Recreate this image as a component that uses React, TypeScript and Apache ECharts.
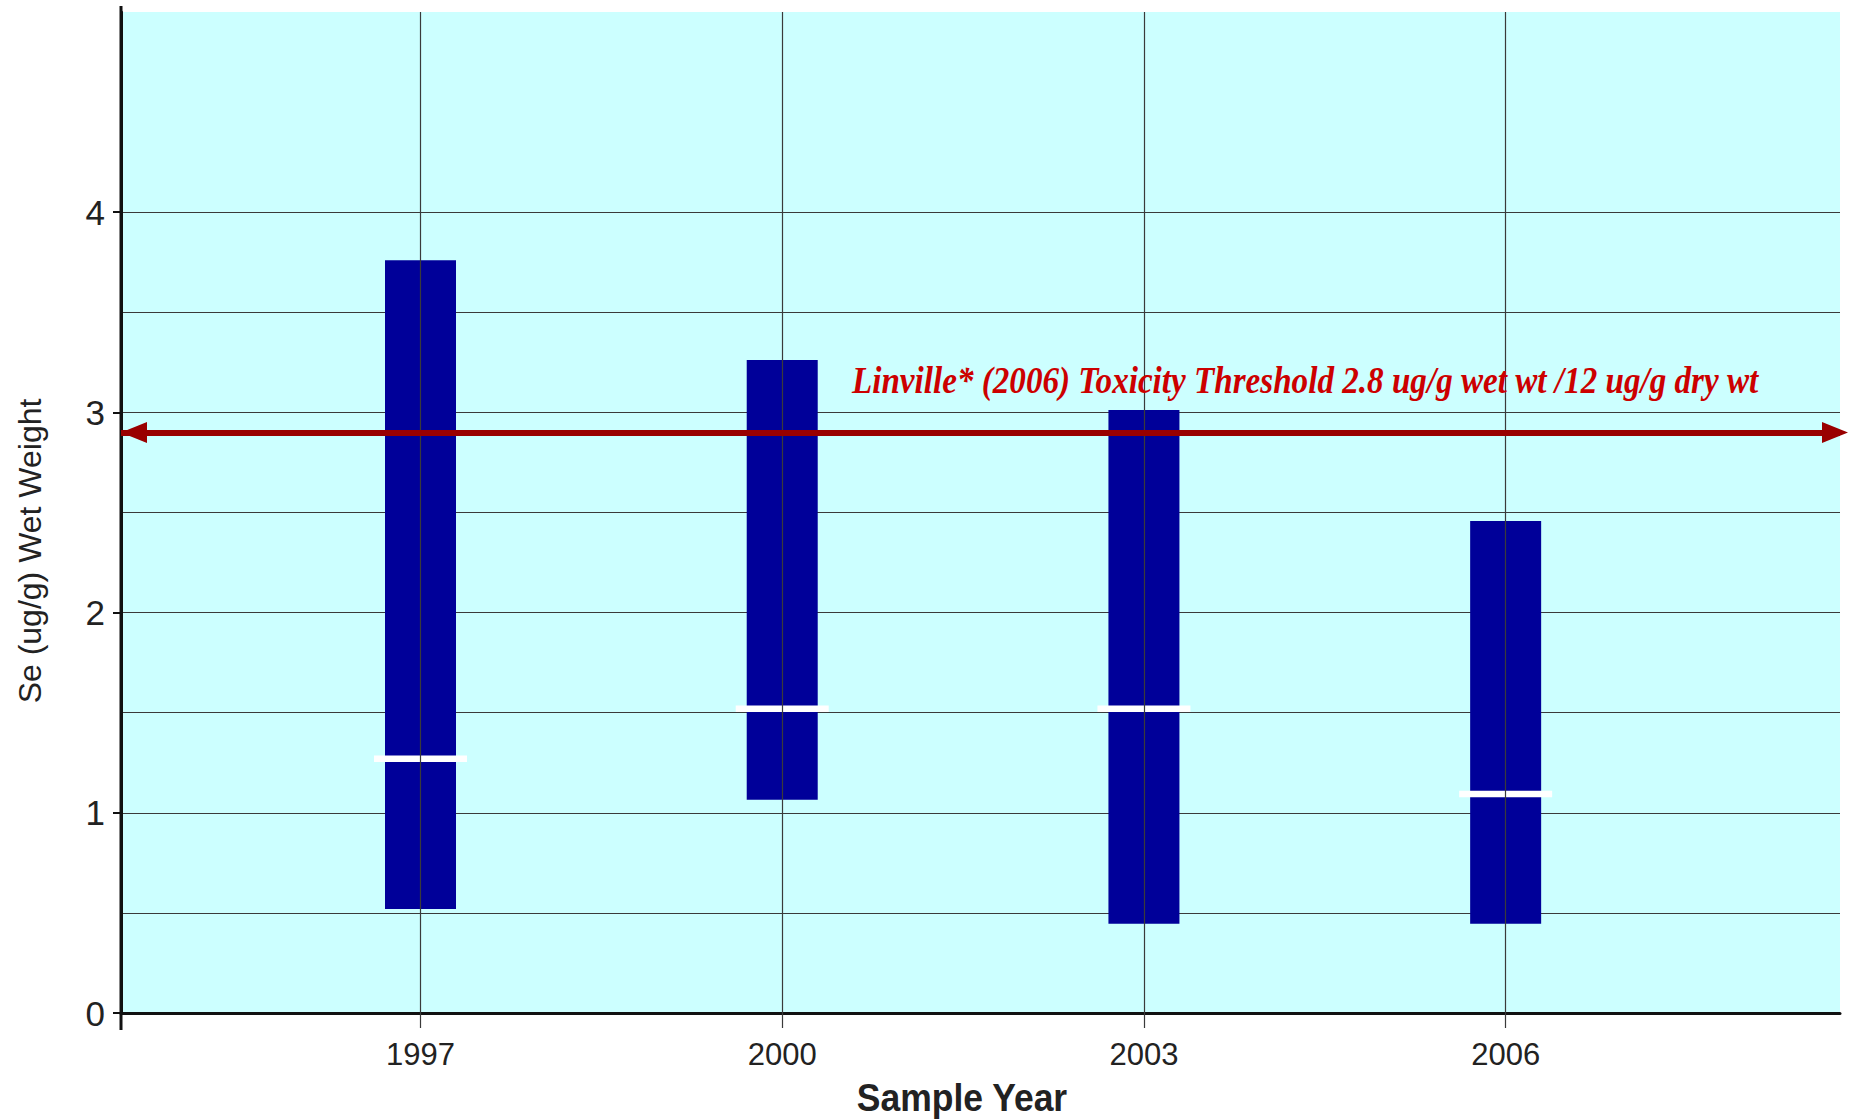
import React, { useEffect, useRef } from "react";
import * as echarts from "echarts";

// ---- data ----
const years = [1997, 2000, 2003, 2006];
const lowValues = [0.52, 1.065, 0.446, 0.446];
const highValues = [3.76, 3.262, 3.012, 2.457];
const medianValues = [1.27, 1.52, 1.52, 1.094];
const thresholdValue = 2.9;
const yTickValues = [0, 1, 2, 3, 4];
const thresholdText = "Linville* (2006) Toxicity Threshold 2.8 ug/g wet wt /12 ug/g dry wt";
const xTitle = "Sample Year";
const yTitle = "Se (ug/g) Wet Weight";

// ---- layout ----
const X_MIN = 1994.516;
const X_MAX = 2008.773;
const BAR_W = 71;

export default function App() {
  const ref = useRef<HTMLDivElement | null>(null);

  useEffect(() => {
    if (!ref.current) return;
    const chart = echarts.init(ref.current, undefined, { renderer: "svg" });
    const gridColor = "#3a3a3a";
    // split lines every 0.5 from 0 to 5; the top two (4.5, 5) are not drawn in the reference
    const splitColors = [
      gridColor, gridColor, gridColor, gridColor, gridColor,
      gridColor, gridColor, gridColor, gridColor, "rgba(0,0,0,0)", "rgba(0,0,0,0)",
    ];
    const option: any = {
      animation: false,
      backgroundColor: "#ffffff",
      grid: {
        left: 121,
        right: 15,
        top: 12,
        bottom: 106,
        show: true,
        backgroundColor: "#CCFFFF",
        borderWidth: 0,
      },
      xAxis: {
        type: "value",
        min: X_MIN,
        max: X_MAX,
        axisLine: { show: true, onZero: false, lineStyle: { color: "#111", width: 3 } },
        axisTick: {
          show: true,
          customValues: years,
          length: 15,
          lineStyle: { color: gridColor, width: 1.2 },
        },
        axisLabel: {
          customValues: years,
          formatter: (v: number) => String(Math.round(v)),
          fontSize: 31,
          color: "#222",
          fontFamily: '"Liberation Sans", Arial, sans-serif',
          margin: 26,
        },
        splitLine: { show: false },
      },
      yAxis: [
        {
          type: "value",
          min: 0,
          max: 5,
          interval: 0.5,
          axisLine: { show: false },
          axisTick: { show: false },
          axisLabel: { show: false },
          splitLine: {
            show: true,
            lineStyle: { color: splitColors, width: 1.2 },
          },
        },
        {
          type: "value",
          position: "left",
          min: 0,
          max: 5,
          interval: 1,
          axisLine: { show: true, onZero: false, lineStyle: { color: "#111", width: 3 } },
          axisTick: {
            show: true,
            customValues: yTickValues,
            length: 8,
            lineStyle: { color: "#111", width: 2 },
          },
          axisLabel: {
            customValues: yTickValues,
            fontSize: 35,
            color: "#222",
            fontFamily: '"Liberation Sans", Arial, sans-serif',
            margin: 16,
          },
          splitLine: { show: false },
        },
      ],
      series: [
        {
          name: "vgrid",
          type: "line",
          data: [],
          z: 1,
          silent: true,
          markLine: {
            silent: true,
            symbol: "none",
            label: { show: false },
            lineStyle: { color: gridColor, width: 1.2, type: "solid" },
            emphasis: { disabled: true },
            data: years.map((y) => ({ xAxis: y })),
          },
        },
        {
          name: "threshold",
          type: "line",
          data: [],
          z: 2,
          silent: true,
          markLine: {
            silent: true,
            symbol: "triangle",
            label: { show: false },
            lineStyle: { color: "#990000", width: 6, type: "solid" },
            emphasis: { disabled: true },
            data: [
              [
                { coord: [X_MIN, thresholdValue], symbol: "triangle", symbolSize: [21, 26], symbolOffset: [0, 13] },
                { coord: [X_MAX, thresholdValue], symbol: "triangle", symbolSize: [21, 26], symbolOffset: [0, 5] },
              ],
            ],
          },
        },
        {
          name: "range",
          type: "custom",
          z: 3,
          silent: true,
          data: years.map((y, i) => [y, lowValues[i], highValues[i]]),
          encode: { x: 0, y: [1, 2] },
          renderItem: (params: any, api: any) => {
            const x = api.value(0);
            const lo = api.coord([x, api.value(1)]);
            const hi = api.coord([x, api.value(2)]);
            return {
              type: "rect",
              shape: { x: lo[0] - BAR_W / 2, y: hi[1], width: BAR_W, height: lo[1] - hi[1] },
              style: { fill: "#000099" },
            };
          },
        },
        {
          name: "median",
          type: "scatter",
          z: 4,
          silent: true,
          symbol: "rect",
          symbolSize: [93, 6.5],
          itemStyle: { color: "#ffffff", opacity: 1 },
          data: years.map((y, i) => [y, medianValues[i]]),
        },
      ],
      graphic: [
        {
          type: "line",
          z: 5,
          silent: true,
          shape: { x1: 121, y1: 6, x2: 121, y2: 1030 },
          style: { stroke: "#111", lineWidth: 3 },
        },
        {
          type: "text",
          x: 852,
          y: 381,
          scaleX: 0.896,
          z: 10,
          style: {
            text: thresholdText,
            fill: "#CC0000",
            font: 'italic bold 37px "Liberation Serif", "Times New Roman", serif',
            align: "left",
            verticalAlign: "middle",
          },
        },
        {
          type: "text",
          x: 962,
          y: 1097.5,
          scaleX: 0.91,
          style: {
            text: xTitle,
            fill: "#222",
            font: 'bold 39px "Liberation Sans", Arial, sans-serif',
            align: "center",
            verticalAlign: "middle",
          },
        },
        {
          type: "text",
          x: 30,
          y: 551,
          rotation: Math.PI / 2,
          style: {
            text: yTitle,
            fill: "#222",
            font: '32px "Liberation Sans", Arial, sans-serif',
            align: "center",
            verticalAlign: "middle",
          },
        },
      ],
    };
    chart.setOption(option);
    return () => chart.dispose();
  }, []);

  return (
    <div
      ref={ref}
      style={{ position: "absolute", left: 0, top: 0, width: 1855, height: 1119 }}
    />
  );
}
